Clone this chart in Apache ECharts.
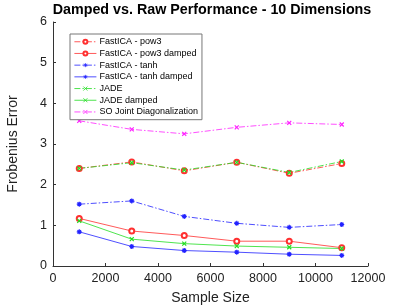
<!DOCTYPE html>
<html><head><meta charset="utf-8">
<script src="https://cdn.jsdelivr.net/npm/echarts@6/dist/echarts.min.js"></script>
<style>html,body{margin:0;padding:0;background:#fff}#c{width:407px;height:305px}</style>
</head><body><div id="c"></div>
<script>
const sampleSizes = [1000, 3000, 5000, 7000, 9000, 11000];
const pow3 = [2.40, 2.56, 2.34, 2.55, 2.28, 2.52];
const pow3Damped = [1.17, 0.86, 0.75, 0.61, 0.61, 0.45];
const tanh = [1.52, 1.60, 1.22, 1.05, 0.95, 1.02];
const tanhDamped = [0.84, 0.48, 0.38, 0.34, 0.29, 0.26];
const jade = [2.40, 2.54, 2.36, 2.55, 2.30, 2.57];
const jadeDamped = [1.11, 0.66, 0.55, 0.49, 0.46, 0.43];
const soJoint = [3.57, 3.36, 3.25, 3.41, 3.52, 3.48];
const names = ['FastICA - pow3','FastICA - pow3 damped','FastICA - tanh','FastICA - tanh damped','JADE','JADE damped','SO Joint Diagonalization'];

const FONT = 'Liberation Sans, Arial, sans-serif';
const X = 'path://M0,0L10,10M10,0L0,10';
const STAR = 'path://M5,0L5,10M0,5L10,5M1.5,1.5L8.5,8.5M8.5,1.5L1.5,8.5';
const dashdot = [6, 2, 1.5, 2];

function mk(name, vals, color, sym, solid, size) {
  const isPath = sym.startsWith('path');
  return {
    name, type: 'line', data: sampleSizes.map((x, i) => [x, vals[i]]),
    symbol: sym, symbolSize: size, showSymbol: true,
    lineStyle: { color, width: 0.8, type: solid ? 'solid' : dashdot },
    itemStyle: isPath ? { color: 'none', borderColor: color, borderWidth: 1.2 } : { color: color, borderColor: color, borderWidth: 0.8 },
    emphasis: { disabled: true }, animation: false
  };
}
const chart = echarts.init(document.getElementById('c'));
chart.setOption({
  animation: false,
  title: { text: 'Damped vs. Raw Performance - 10 Dimensions', left: 212, textAlign: 'center', top: 3, padding: 0,
    textStyle: { fontFamily: FONT, fontSize: 14.3, fontWeight: 'bold', color: '#000' } },
  grid: { left: 53, right: 39, top: 22, bottom: 39, outerBoundsMode: 'none', containLabel: false },
  legend: {
    orient: 'vertical', left: 70, top: 34, width: 130, padding: [3, 4, 3, 4],
    backgroundColor: '#fff', borderColor: '#777', borderWidth: 1, borderRadius: 0,
    itemWidth: 22, itemHeight: 5, itemGap: 2.2,
    lineStyle: { width: 0.8 }, itemStyle: { borderWidth: 0.8 },
    textStyle: { fontFamily: FONT, fontSize: 9, lineHeight: 9.5, color: '#000', padding: [0, 0, 0, -2] },
    data: names
  },
  xAxis: { type: 'value', min: 0, max: 12000, interval: 2000, name: 'Sample Size', nameLocation: 'middle', nameGap: 25,
    nameTextStyle: { fontFamily: FONT, fontSize: 14, color: '#222' },
    axisLine: { lineStyle: { color: '#333' } }, axisTick: { inside: true, length: 3, lineStyle: { color: '#333' } },
    axisLabel: { fontFamily: FONT, fontSize: 12.5, color: '#222', margin: 6, formatter: v => String(v) }, splitLine: { show: false } },
  yAxis: { type: 'value', min: 0, max: 6, interval: 1, name: 'Frobenius Error', nameLocation: 'middle', nameGap: 33,
    nameTextStyle: { fontFamily: FONT, fontSize: 14, color: '#222' },
    axisLine: { show: true, lineStyle: { color: '#333' } }, axisTick: { show: true, inside: true, length: 3, lineStyle: { color: '#333' } },
    axisLabel: { fontFamily: FONT, fontSize: 12.5, color: '#222', margin: 6 }, splitLine: { show: false } },
  series: [
    mk(names[0], pow3, '#ff3030', 'emptyCircle', false, 5),
    mk(names[1], pow3Damped, '#ff3030', 'emptyCircle', true, 5),
    mk(names[2], tanh, '#2222ff', STAR, false, 5),
    mk(names[3], tanhDamped, '#2222ff', STAR, true, 5),
    mk(names[4], jade, '#22dd22', X, false, 4),
    mk(names[5], jadeDamped, '#22dd22', X, true, 4),
    mk(names[6], soJoint, '#ff22ff', X, false, 4)
  ]
});
</script></body></html>
